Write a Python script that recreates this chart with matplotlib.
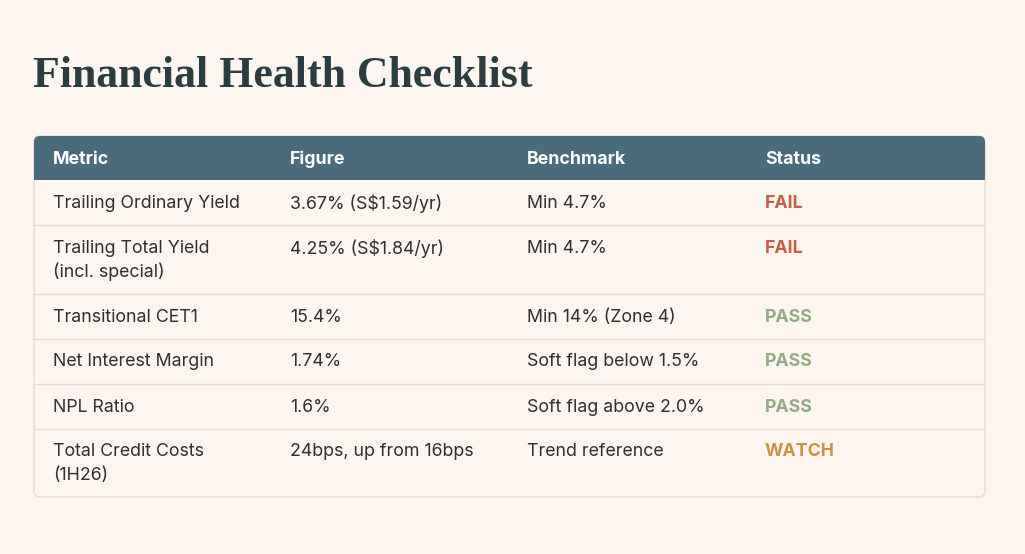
import matplotlib.pyplot as plt
from matplotlib.patches import FancyBboxPatch, Rectangle

title = "Financial Health Checklist"
headers = ["Metric", "Figure", "Benchmark", "Status"]
metrics = ["Trailing Ordinary Yield", "Trailing Total Yield\n(incl. special)",
           "Transitional CET1", "Net Interest Margin", "NPL Ratio",
           "Total Credit Costs\n(1H26)"]
figures = ["3.67% (S$1.59/yr)", "4.25% (S$1.84/yr)", "15.4%", "1.74%",
           "1.6%", "24bps, up from 16bps"]
benchmarks = ["Min 4.7%", "Min 4.7%", "Min 14% (Zone 4)",
              "Soft flag below 1.5%", "Soft flag above 2.0%", "Trend reference"]
statuses = ["FAIL", "FAIL", "PASS", "PASS", "PASS", "WATCH"]

BG = "#fdf6f0"
HEADER = "#4a6b7c"
TEXT = "#2f2f2f"
LINE = "#e6dcd5"
status_colors = {"FAIL": "#c95d4c", "PASS": "#93ab82", "WATCH": "#c99345"}

body_font = "Inter"
W, H = 1025, 554

fig = plt.figure(figsize=(W / 100, H / 100), dpi=100)
fig.patch.set_facecolor(BG)
ax = fig.add_axes([0, 0, 1, 1])
ax.set_xlim(0, W)
ax.set_ylim(H, 0)
ax.axis("off")

ax.text(33, 76, title, fontsize=31.6, fontweight="bold", family="Liberation Serif",
        color="#2b3d40", va="center", ha="left")

left, right = 34, 985
top, head_h = 136, 44
col_x = [53, 290, 527, 765]
line_h = 23.5
base_h = 45
fs = 12.8

# row heights from line counts
heights = [base_h + line_h * m.count("\n") for m in metrics]
bottom = top + head_h + sum(heights)

box = FancyBboxPatch((left, top), right - left, bottom - top,
                     boxstyle="round,pad=0,rounding_size=6",
                     facecolor=BG, edgecolor=LINE, linewidth=1, zorder=1)
ax.add_patch(box)
head = FancyBboxPatch((left, top), right - left, head_h,
                      boxstyle="round,pad=0,rounding_size=6",
                      facecolor=HEADER, edgecolor="none", zorder=2)
ax.add_patch(head)
ax.add_patch(Rectangle((left, top + head_h - 10), right - left, 10,
                       facecolor=HEADER, edgecolor="none", zorder=2))

for x, h in zip(col_x, headers):
    ax.text(x, top + head_h / 2 + 1, h, fontsize=fs, fontweight="bold",
            family=body_font, color="white", va="center", ha="left", zorder=3)

y = top + head_h
for i in range(len(metrics)):
    ty = y + 23.5
    cells = [metrics[i], figures[i], benchmarks[i]]
    for x, c in zip(col_x, cells):
        for k, part in enumerate(c.split("\n")):
            ax.text(x, ty + k * line_h, part, fontsize=fs, family=body_font,
                    color=TEXT, va="center", ha="left", zorder=3)
    ax.text(col_x[3], ty, statuses[i], fontsize=fs, fontweight="bold",
            family=body_font, color=status_colors[statuses[i]],
            va="center", ha="left", zorder=3)
    y += heights[i]
    if i < len(metrics) - 1:
        ax.plot([left, right], [y, y], color=LINE, linewidth=1, zorder=3)

fig.savefig("out.png", dpi=100, facecolor=BG)
